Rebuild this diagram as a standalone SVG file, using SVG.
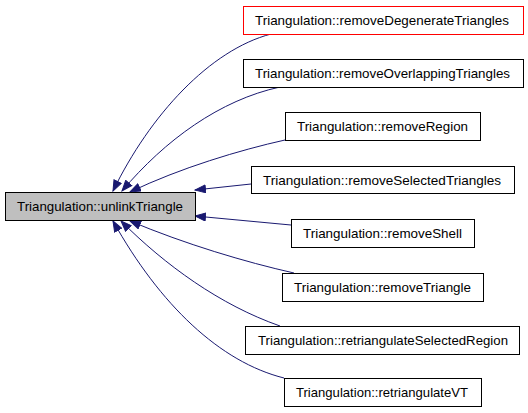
<svg xmlns="http://www.w3.org/2000/svg" width="528" height="413" viewBox="0 0 528 413">
<defs>
<style>
.node rect{fill:#ffffff;stroke:#000000;stroke-width:1}
.node text{font-family:"Liberation Sans",Arial,sans-serif;font-size:13.5px;fill:#000000;text-anchor:middle}
#n0 rect{fill:#bfbfbf}
#n1 rect{stroke:#ff0000}
.edges path{fill:none;stroke:#191970;stroke-width:1;marker-end:url(#arr)}
</style>
<marker id="arr" markerUnits="userSpaceOnUse" markerWidth="12" markerHeight="10" refX="11" refY="4.5" orient="auto">
<path d="M0.5,0.5 L11,4.5 L0.5,8.5 z" fill="#191970" stroke="#191970" stroke-width="1"/>
</marker>
</defs>
<rect width="528" height="413" fill="#ffffff"/>
<g class="edges">
<path d="M271,34 C210,50 150,115 113,191"/>
<path d="M280,87 C220,100 165,140 122,191"/>
<path d="M285,140 C240,150 180,168 130,192"/>
<path d="M251,184 L195,190"/>
<path d="M291,225 L195,216"/>
<path d="M294,273 C245,262 185,244 130,221"/>
<path d="M280,326 C220,305 165,265 121,221"/>
<path d="M284,378 C220,362 160,305 113,221"/>
</g>
<g id="n0" class="node"><rect x="5.5" y="192.5" width="190" height="28"/><text x="100" y="211" textLength="166" lengthAdjust="spacingAndGlyphs">Triangulation::unlinkTriangle</text></g>
<g id="n1" class="node"><rect x="243.5" y="6.5" width="280" height="28"/><text x="382" y="25" textLength="254" lengthAdjust="spacingAndGlyphs">Triangulation::removeDegenerateTriangles</text></g>
<g id="n2" class="node"><rect x="243.5" y="59.5" width="280" height="28"/><text x="382.5" y="78" textLength="255" lengthAdjust="spacingAndGlyphs">Triangulation::removeOverlappingTriangles</text></g>
<g id="n3" class="node"><rect x="285.5" y="112.5" width="195" height="28"/><text x="382.5" y="131" textLength="171" lengthAdjust="spacingAndGlyphs">Triangulation::removeRegion</text></g>
<g id="n4" class="node"><rect x="251.5" y="166.5" width="263" height="27"/><text x="382" y="185" textLength="238" lengthAdjust="spacingAndGlyphs">Triangulation::removeSelectedTriangles</text></g>
<g id="n5" class="node"><rect x="291.5" y="219.5" width="183" height="28"/><text x="382.5" y="238" textLength="159" lengthAdjust="spacingAndGlyphs">Triangulation::removeShell</text></g>
<g id="n6" class="node"><rect x="282.5" y="273.5" width="201" height="28"/><text x="382.5" y="292" textLength="177" lengthAdjust="spacingAndGlyphs">Triangulation::removeTriangle</text></g>
<g id="n7" class="node"><rect x="245.5" y="326.5" width="274" height="28"/><text x="383" y="345" textLength="250" lengthAdjust="spacingAndGlyphs">Triangulation::retriangulateSelectedRegion</text></g>
<g id="n8" class="node"><rect x="284.5" y="378.5" width="197" height="28"/><text x="382" y="397" textLength="172" lengthAdjust="spacingAndGlyphs">Triangulation::retriangulateVT</text></g>
</svg>
